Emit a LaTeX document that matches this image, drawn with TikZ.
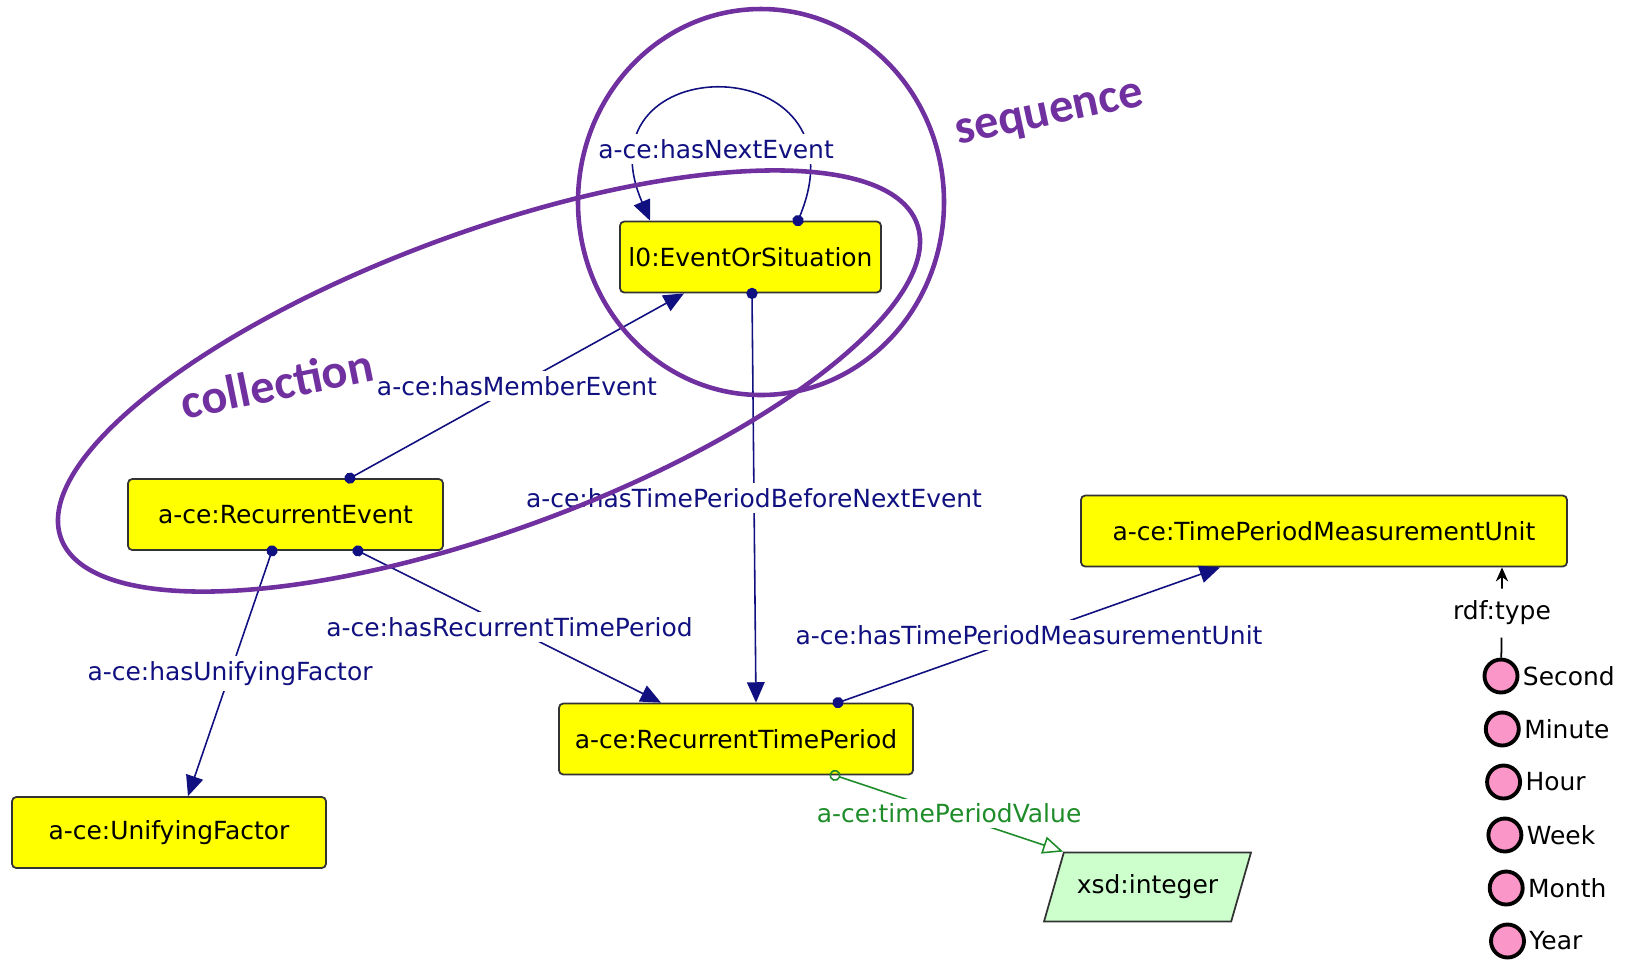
\documentclass[tikz,border=0pt]{standalone}
\usepackage{fontspec}
\setmainfont{DejaVu Sans}
\newfontfamily\annfont{Carlito}
\usetikzlibrary{arrows.meta,shapes.geometric}
\definecolor{owlyellow}{RGB}{255,255,0}
\definecolor{propblue}{RGB}{16,16,128}
\definecolor{datagreen}{RGB}{30,140,40}
\definecolor{lightgreen}{RGB}{204,255,204}
\definecolor{indpink}{RGB}{250,150,200}
\definecolor{annpurple}{RGB}{112,48,160}

\begin{document}
\begin{tikzpicture}[
	font=\fontsize{7.1pt}{8.5pt}\selectfont,
	cls/.style={draw=black!80, line width=0.5pt, fill=owlyellow, rounded corners=1.2pt, minimum height=0.71cm, inner sep=0pt},
	prop/.style={draw=propblue, line width=0.45pt, {Circle[length=3.2pt]}-{Triangle[length=5.8pt, width=5pt]}, shorten <=-1.6pt},
	dprop/.style={draw=datagreen, line width=0.45pt, {Circle[open, length=3.2pt]}-{Triangle[open, length=5.8pt, width=5pt]}, shorten <=-1.6pt},
	lbl/.style={fill=white, text=propblue, inner sep=1.5pt},
	ind/.style={circle, draw=black, line width=1.1pt, fill=indpink, minimum size=0.33cm, inner sep=0pt},
	ann/.style={draw=annpurple, line width=1.3pt},
	anntext/.style={text=annpurple, font=\annfont\bfseries\fontsize{13.8pt}{16pt}\selectfont, rotate=12}
	]
	\useasboundingbox (0,0) rectangle (16.3,-9.6);
	
	% classes
	\node[cls, minimum width=2.61cm] (eos) at (7.505,-2.57) {l0:EventOrSituation};
	\node[cls, minimum width=3.15cm] (re) at (2.855,-5.145) {a-ce:RecurrentEvent};
	\node[cls, minimum width=3.14cm] (uf) at (1.69,-8.325) {a-ce:UnifyingFactor};
	\node[cls, minimum width=3.54cm] (rtp) at (7.36,-7.39) {a-ce:RecurrentTimePeriod};
	\node[cls, minimum width=4.86cm] (tpmu) at (13.24,-5.31) {a-ce:TimePeriodMeasurementUnit};
	\node[trapezium, trapezium left angle=74, trapezium right angle=106, draw=black!80, line width=0.5pt, fill=lightgreen, inner xsep=0.13cm, inner ysep=0.225cm] (xsd) at (11.475,-8.87) {xsd:integer};
	
	% object properties
	\draw[prop] ([xshift=0.645cm]re.north) -- node[lbl]{a-ce:hasMemberEvent} ([xshift=-0.665cm]eos.south);
	\draw[prop] ([xshift=0.015cm]eos.south) -- node[lbl]{a-ce:hasTimePeriodBeforeNextEvent} ([xshift=0.2cm]rtp.north);
	\draw[prop] ([xshift=0.725cm]re.south) -- node[lbl]{a-ce:hasRecurrentTimePeriod} ([xshift=-0.75cm]rtp.north);
	\draw[prop] ([xshift=-0.135cm]re.south) -- node[lbl]{a-ce:hasUnifyingFactor} ([xshift=0.19cm]uf.north);
	\draw[prop] ([xshift=1.02cm]rtp.north) -- node[lbl]{a-ce:hasTimePeriodMeasurementUnit} ([xshift=-1.04cm]tpmu.south);
	\draw[prop] ([xshift=0.475cm]eos.north) .. controls (8.70,-0.46) and (5.75,-0.46) .. ([xshift=-1.005cm]eos.north);
	\node[lbl] (next) at (7.16,-1.49) {a-ce:hasNextEvent};
	
	% datatype property
	\draw[dprop] ([xshift=0.99cm]rtp.south) -- node[lbl, text=datagreen]{a-ce:timePeriodValue} (xsd.top left corner);
	
	% individuals
	\foreach \name [count=\i] in {Second, Minute, Hour, Week, Month, Year}{
		\node[ind, label={[inner sep=0.8pt]right:\name}] (ind\i) at (15.01+0.013*\i-0.013, -6.76-0.53*\i+0.53) {};
	}
	\node (rdft) at (15.02,-6.13) {rdf:type};
	\draw[line width=0.5pt] (ind1) -- (rdft);
	\draw[line width=0.5pt, -{Stealth[length=4pt, width=3.5pt]}] (rdft) -- ([xshift=1.78cm]tpmu.south);
	
	% groupings
	\draw[ann] (7.61,-2.02) ellipse [x radius=1.83, y radius=1.93];
	\draw[ann, rotate around={20.2:(4.89,-3.81)}] (4.89,-3.81) ellipse [x radius=4.56, y radius=1.49];
	\node[anntext, rotate=-0.5] (coll) at (2.77,-3.83) {collection};
	\node[anntext] (seq) at (10.50,-1.17) {sequence};
\end{tikzpicture}
\end{document}
